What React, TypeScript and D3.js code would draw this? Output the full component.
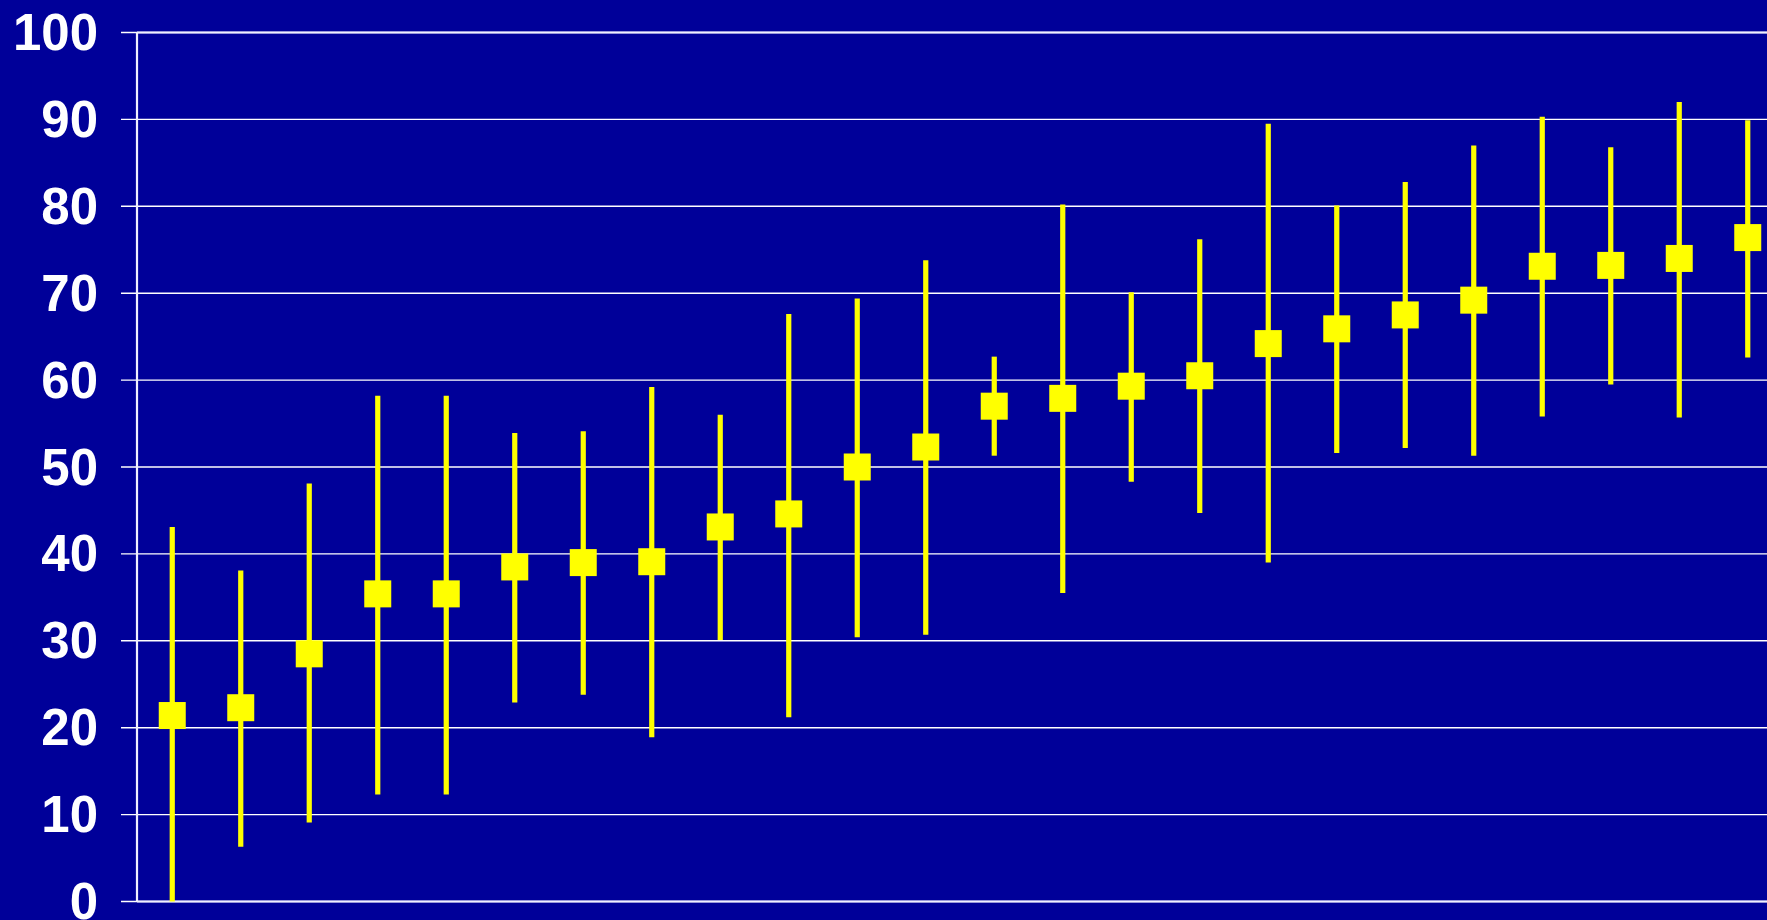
import React from "react";
import * as d3 from "d3";

const categories = Array.from({ length: 24 }, (_, i) => `G${i + 1}`);
const means = [21.4, 22.3, 28.5, 35.4, 35.4, 38.5, 39.0, 39.1, 43.1, 44.6, 50.0, 52.3, 57.0, 57.9, 59.3, 60.5, 64.2, 65.9, 67.5, 69.2, 73.1, 73.2, 74.0, 76.4];
const uppers = [43.1, 38.1, 48.1, 58.2, 58.2, 53.9, 54.1, 59.2, 56.0, 67.6, 69.4, 73.8, 62.7, 80.2, 70.1, 76.2, 89.5, 80.1, 82.8, 87.0, 90.3, 86.8, 92.0, 89.9];
const lowers = [0.0, 6.3, 9.1, 12.3, 12.3, 22.9, 23.8, 18.9, 30.1, 21.2, 30.4, 30.7, 51.3, 35.5, 48.3, 44.7, 39.0, 51.6, 52.2, 51.3, 55.8, 59.5, 55.7, 62.6];
const yTicks = [0, 10, 20, 30, 40, 50, 60, 70, 80, 90, 100];

const W = 1767;
const H = 920;
const BG = "#000099";
const YELLOW = "#FFFF00";

export default function App() {
  const x = d3
    .scaleBand<string>()
    .domain(categories)
    .range([138, 138 + categories.length * 68.5])
    .paddingInner(0)
    .paddingOuter(0);
  const y = d3.scaleLinear().domain([0, 100]).range([901.5, 32.5]);
  const cx = (c: string) => (x(c) as number) + x.bandwidth() / 2;
  const m = 27;

  return (
    <svg
      width={W}
      height={H}
      style={{ position: "fixed", left: 0, top: 0, display: "block" }}
    >
      <rect x={0} y={0} width={W} height={H} fill={BG} />
      {yTicks.map((t) => (
        <g key={t}>
          <line x1={121} x2={W} y1={y(t)} y2={y(t)} stroke="#ffffff" strokeWidth={1.4} />
          <text
            x={98}
            y={y(t)}
            fill="#ffffff"
            fontFamily="'Liberation Sans', Arial, sans-serif"
            fontWeight="bold"
            fontSize={51}
            textAnchor="end"
            dominantBaseline="central"
          >
            {t}
          </text>
        </g>
      ))}
      <line x1={137} x2={W} y1={y(100)} y2={y(100)} stroke="#f0f0ff" strokeWidth={2.2} />
      <line x1={137} x2={W} y1={y(0)} y2={y(0)} stroke="#f0f0ff" strokeWidth={2.2} />
      <line x1={137} x2={137} y1={y(100)} y2={y(0)} stroke="#f0f0ff" strokeWidth={2.2} />
      {categories.map((c, i) => (
        <g key={c}>
          <line
            x1={cx(c)}
            x2={cx(c)}
            y1={y(uppers[i])}
            y2={y(lowers[i])}
            stroke={YELLOW}
            strokeWidth={5.2}
          />
          <rect
            x={cx(c) - m / 2}
            y={y(means[i]) - m / 2}
            width={m}
            height={m}
            fill={YELLOW}
          />
        </g>
      ))}
    </svg>
  );
}
